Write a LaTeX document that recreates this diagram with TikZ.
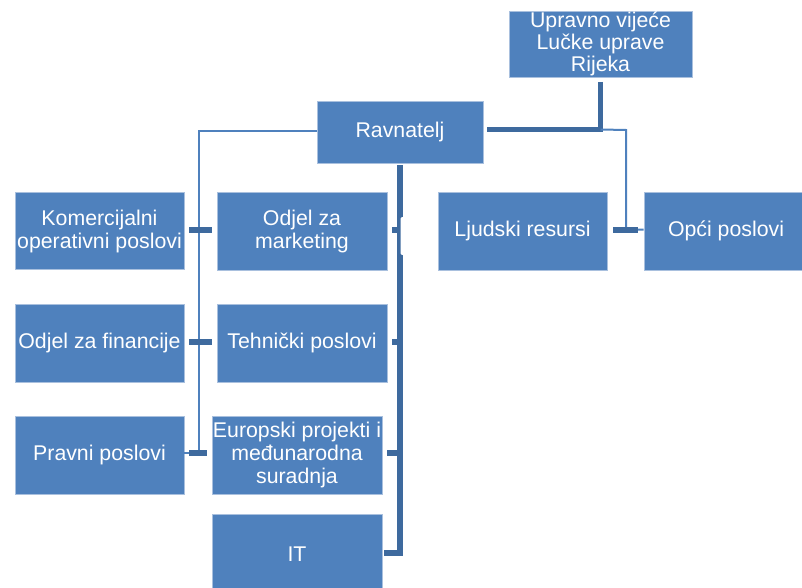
\documentclass[tikz,border=0pt]{standalone}
\usepackage{fontspec}
\setmainfont{Liberation Sans}
\definecolor{boxblue}{HTML}{4F81BD}
\definecolor{boxedge}{HTML}{A9C0DE}
\definecolor{thickblue}{HTML}{3E6A9E}
\definecolor{thinblue}{HTML}{4F81BD}
\begin{document}
\begin{tikzpicture}[x=1pt,y=-1pt,
  orgbox/.style={rectangle, fill=boxblue, draw=boxedge, line width=0.8pt, text=white,
    align=center, inner sep=0pt, font=\fontsize{21.3}{23}\selectfont},
  thickline/.style={draw=thickblue, line width=5.5pt},
  thinline/.style={draw=thinblue, line width=2pt}]
\useasboundingbox (0,0) rectangle (802,588);
% boxes
\node[orgbox, minimum width=183pt, minimum height=66pt, font=\fontsize{21.3}{22}\selectfont] (uv) at (600.5,44) {Upravno vijeće\\Lučke uprave\\Rijeka};
\node[orgbox, minimum width=166pt, minimum height=62pt] (rav) at (400,132) {Ravnatelj};
\node[orgbox, minimum width=169pt, minimum height=77pt] (kom) at (99.5,231) {Komercijalni\\operativni poslovi};
\node[orgbox, minimum width=170pt, minimum height=78pt] (mkt) at (302,231) {Odjel za\\marketing};
\node[orgbox, minimum width=169pt, minimum height=78pt] (ljr) at (522.5,231) {Ljudski resursi};
\node[orgbox, minimum width=164pt, minimum height=78pt] (opc) at (726,231) {Opći poslovi};
\node[orgbox, minimum width=169pt, minimum height=78pt] (fin) at (99.5,343) {Odjel za financije};
\node[orgbox, minimum width=170pt, minimum height=78pt] (teh) at (302,343) {Tehnički poslovi};
\node[orgbox, minimum width=169pt, minimum height=78pt] (pra) at (99.5,455) {Pravni poslovi};
\node[orgbox, minimum width=170pt, minimum height=78pt] (eur) at (297,455) {Europski projekti i\\međunarodna\\suradnja};
\node[orgbox, minimum width=170pt, minimum height=80pt] (it) at (297,554) {IT};
% coordinates
\coordinate (uvtop) at (600.5,82);
\coordinate (uvcorner) at (600.5,129.5);
\coordinate (ravR) at (487,129.5);
\coordinate (rtA) at (626,130);
\coordinate (rtB) at (626,229.5);
\coordinate (ltA) at (199,131);
\coordinate (ltB) at (199,453);
\coordinate (spTop) at (400,168);
\coordinate (spBot) at (400,553);
% top thick connector
\draw[thickline] (uvtop) -- (uvcorner) -- (ravR);
% right thin connector to Opci poslovi
\draw[thinline] (uvcorner) -- (rtA) -- (rtB) -- (opc.west |- rtB);
\draw[thickline] (613,230) -- (638,230);
% left thin connector
\draw[thinline] (rav.west |- ltA) -- (ltA) -- (ltB) -- (pra.east |- ltB);
\draw[thickline] (189,230) -- (212,230);
\draw[thickline] (189,342) -- (212,342);
\draw[thickline] (189,453) -- (207,453);
% right spine
\draw[thickline, line cap=rect] (spTop) -- (spBot) -- (387,553);
\draw[thickline] (392,230) -- (400,230);
\draw[thickline] (392,342) -- (400,342);
\draw[thickline] (387,453) -- (400,453);
\fill[white, rounded corners=2pt] (400.5,217) rectangle (406,255);
\end{tikzpicture}
\end{document}
